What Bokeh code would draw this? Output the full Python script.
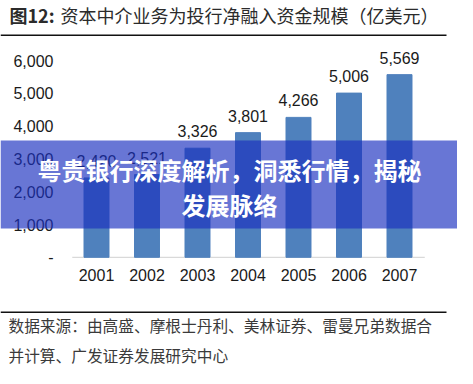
from bokeh.plotting import figure
from bokeh.models import ColumnDataSource, Label, BoxAnnotation, FixedTicker, Range1d
from bokeh.embed import file_html
from bokeh.resources import INLINE
from bokeh.core.properties import value

# ---- data ----
years = ["2001", "2002", "2003", "2004", "2005", "2006", "2007"]
amounts = [2420, 2521, 3326, 3801, 4266, 5006, 5569]
amount_labels = ["2,420", "2,521", "3,326", "3,801", "4,266", "5,006", "5,569"]
y_ticks = [0, 1000, 2000, 3000, 4000, 5000, 6000]
y_tick_labels = ["-", "1,000", "2,000", "3,000", "4,000", "5,000", "6,000"]
title_prefix = "图12:"
title_text = "资本中介业务为投行净融入资金规模（亿美元）"
source_lines = ["数据来源：由高盛、摩根士丹利、美林证券、雷曼兄弟数据合",
                "并计算、广发证券发展研究中心"]
banner_lines = ["粤贵银行深度解析，洞悉行情，揭秘", "发展脉络"]

W, H = 457, 368
# layout geometry (canvas pixels)
X0_PX, STEP_PX = 96.0, 50.5        # centre of first category, category spacing
Y0_PX, UNIT_PX = 256.8, 32.8       # baseline pixel, pixels per 1000

x_start = -X0_PX / STEP_PX
x_end = (W - X0_PX) / STEP_PX
y_end = Y0_PX / UNIT_PX * 1000
y_start = -(H - Y0_PX) / UNIT_PX * 1000

p = figure(width=W, height=H, x_range=Range1d(x_start, x_end), y_range=Range1d(y_start, y_end),
           output_backend="svg", toolbar_location=None,
           min_border=0, min_border_left=0, min_border_right=0, min_border_top=0, min_border_bottom=0)
p.outline_line_color = None
p.grid.visible = False
p.background_fill_color = "white"

idx = list(range(len(years)))

# x axis at baseline (fixed location inside frame)
p.xaxis.fixed_location = 0
p.xaxis.ticker = FixedTicker(ticks=idx)
p.xaxis.major_label_overrides = {i: y for i, y in zip(idx, years)}
p.xaxis.axis_line_color = None
p.xaxis.major_tick_line_color = None
p.xaxis.minor_tick_line_color = None
p.xaxis.major_label_standoff = 6
p.xaxis.major_label_text_font = "Liberation Sans"
p.xaxis.major_label_text_font_size = "16px"
p.xaxis.major_label_text_color = "#1a1a1a"

# y axis
p.yaxis.fixed_location = (76 - X0_PX) / STEP_PX
p.yaxis.ticker = FixedTicker(ticks=y_ticks)
p.yaxis.major_label_overrides = {t: l for t, l in zip(y_ticks, y_tick_labels)}
p.yaxis.axis_line_color = None
p.yaxis.major_tick_line_color = None
p.yaxis.minor_tick_line_color = None
p.yaxis.major_label_standoff = 17
p.yaxis.major_label_text_font = "Liberation Sans"
p.yaxis.major_label_text_font_size = "16px"
p.yaxis.major_label_text_color = "#1a1a1a"

# baseline
p.segment(x0=[-0.48], x1=[6.5], y0=[0], y1=[0], line_color="#d9d9d9", line_width=1.2)

src = ColumnDataSource(dict(x=idx, top=amounts, lab=amount_labels))
p.vbar(x="x", top="top", width=0.495, source=src, color="#4f81bd")
p.text(x="x", y="top", text="lab", source=src, text_align="center", text_baseline="middle",
       y_offset=-17, text_font=value("Liberation Sans"), text_font_size="16px", text_color="#1a1a1a")

# title
p.add_layout(Label(x=9, y=14, x_units="canvas", y_units="canvas", text=title_prefix,
                   text_font="Noto Sans CJK SC", text_font_style="bold", text_font_size="18px",
                   text_color="#2b2b2b", text_baseline="middle"))
p.add_layout(Label(x=60, y=14, x_units="canvas", y_units="canvas", text=title_text,
                   text_font="Noto Sans CJK SC", text_font_size="18px",
                   text_color="#2b2b2b", text_baseline="middle"))
p.add_layout(BoxAnnotation(left=0, right=446, top=34, bottom=35.5, left_units="canvas", right_units="canvas",
                           top_units="canvas", bottom_units="canvas", fill_color="#111111", fill_alpha=1,
                           line_color=None))
# footer
p.add_layout(BoxAnnotation(left=0, right=446, top=311, bottom=312.5, left_units="canvas", right_units="canvas",
                           top_units="canvas", bottom_units="canvas", fill_color="#111111", fill_alpha=1,
                           line_color=None))
for line, yy in zip(source_lines, [325, 355]):
    p.add_layout(Label(x=8, y=yy, x_units="canvas", y_units="canvas", text=line,
                       text_font="Noto Sans CJK SC", text_font_size="15.7px",
                       text_color="#3a3a3a", text_baseline="middle"))

# banner
p.add_layout(BoxAnnotation(left=0, right=W, top=140, bottom=228, left_units="canvas", right_units="canvas",
                           top_units="canvas", bottom_units="canvas", fill_color="#1a2fbf", fill_alpha=0.66,
                           line_color=None))
for line, yy in zip(banner_lines, [169, 204]):
    p.add_layout(Label(x=229, y=yy, x_units="canvas", y_units="canvas", text=line,
                       text_font="Noto Sans CJK SC", text_font_style="bold", text_font_size="24px",
                       text_color="white", text_align="center", text_baseline="middle"))

open("out.html", "w").write(file_html(p, INLINE))
